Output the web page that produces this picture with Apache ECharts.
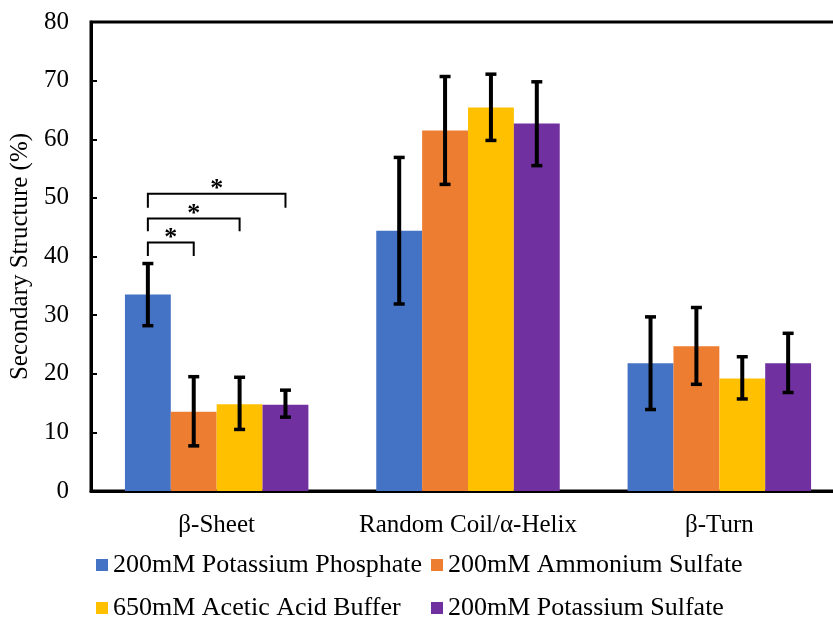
<!DOCTYPE html>
<html>
<head>
<meta charset="utf-8">
<script src="https://cdn.jsdelivr.net/npm/echarts@6/dist/echarts.min.js"></script>
<style>html,body{margin:0;padding:0;background:#fff}#c{width:833px;height:618px}</style>
</head>
<body>
<div id="c"></div>
<script>
const categories = ['β-Sheet', 'Random Coil/α-Helix', 'β-Turn'];
const seriesNames = ['200mM Potassium Phosphate', '200mM Ammonium Sulfate', '650mM Acetic Acid Buffer', '200mM Potassium Sulfate'];
const phosphate = [33.5, 44.4, 21.8];
const ammonium = [13.5, 61.5, 24.7];
const acetic = [14.8, 65.4, 19.2];
const potSulfate = [14.7, 62.7, 21.8];
const phosphateErr = [[28.2, 38.8], [31.9, 56.9], [13.9, 29.7]];
const ammoniumErr = [[7.7, 19.5], [52.3, 70.7], [18.2, 31.3]];
const aceticErr = [[10.5, 19.4], [59.8, 71.1], [15.7, 22.9]];
const potSulfateErr = [[12.6, 17.2], [55.5, 69.8], [16.8, 26.9]];
// significance brackets within β-Sheet: from series, to series, top level, leg bottom level
const bracketFrom = [0, 0, 0];
const bracketTo = [1, 2, 3];
const bracketTop = [42.4, 46.5, 50.7];
const bracketBottom = [40.1, 44.3, 48.3];
const yTicks = [0, 10, 20, 30, 40, 50, 60, 70, 80];

const colors = ['#4472C4', '#ED7D31', '#FFC000', '#7030A0'];
const FONT = "'Liberation Serif', 'Times New Roman', serif";
const GAP = 0.27;
const NS = 4;

const values = [phosphate, ammonium, acetic, potSulfate];
const errs = [phosphateErr, ammoniumErr, aceticErr, potSulfateErr];

function barCenter(api, cat, s) {
  const band = api.size([1, 0])[0];
  const bw = band * (1 - GAP) / NS;
  return api.coord([cat, 0])[0] - band * (1 - GAP) / 2 + bw * (s + 0.5);
}

const errData = [];
errs.forEach((arr, s) => arr.forEach((e, c) => errData.push([c, s, e[0], e[1]])));
const bracketData = bracketFrom.map((f, i) => [0, f, bracketTo[i], bracketTop[i], bracketBottom[i]]);

const chart = echarts.init(document.getElementById('c'), null, {renderer: 'canvas'});
const barSeries = seriesNames.map((n, i) => ({
  name: n,
  type: 'bar',
  data: values[i],
  itemStyle: {color: colors[i]},
  barGap: '0%',
  barCategoryGap: (GAP * 100) + '%',
  z: 2
}));

const legendPos = [[91, 547], [426, 547], [91, 590], [426, 590]];
const legends = seriesNames.map((n, i) => ({
  data: [n],
  orient: 'horizontal',
  left: legendPos[i][0], top: legendPos[i][1],
  itemWidth: 12, itemHeight: 12, itemGap: 5,
  icon: 'rect',
  textStyle: {color: '#000', fontSize: 26, fontFamily: FONT, lineHeight: 26}
}));

chart.setOption({
  animation: false,
  textStyle: {fontFamily: FONT},
  grid: {left: 91, top: 22, width: 754, height: 469, show: true, borderColor: '#000', borderWidth: 3, containLabel: false, outerBoundsMode: 'none'},
  xAxis: {
    type: 'category',
    data: categories,
    axisLine: {lineStyle: {color: '#000', width: 3}},
    axisTick: {show: false},
    axisLabel: {color: '#000', fontSize: 25, fontFamily: FONT, margin: 22, interval: 0}
  },
  yAxis: {
    type: 'value',
    min: yTicks[0],
    max: yTicks[yTicks.length - 1],
    interval: 10,
    name: 'Secondary Structure (%)',
    nameLocation: 'middle',
    nameGap: 58,
    nameTextStyle: {color: '#000', fontSize: 25, fontFamily: FONT},
    axisLine: {show: true, lineStyle: {color: '#000', width: 3}},
    axisTick: {show: true, inside: true, length: 6, lineStyle: {color: '#000', width: 2}},
    axisLabel: {color: '#000', fontSize: 25, fontFamily: FONT, margin: 22},
    splitLine: {show: false}
  },
  legend: legends,
  series: barSeries.concat([
    {
      type: 'custom',
      name: 'errors',
      data: errData,
      z: 5,
      silent: true,
      encode: {x: 0, y: 2},
      renderItem: function (params, api) {
        const cat = api.value(0), s = api.value(1);
        const x = barCenter(api, cat, s);
        const yl = api.coord([cat, api.value(2)])[1];
        const yh = api.coord([cat, api.value(3)])[1];
        const st = {stroke: '#000', lineWidth: 4};
        const cs = {stroke: '#000', lineWidth: 3.5};
        const hw = 5.5;
        return {type: 'group', children: [
          {type: 'line', shape: {x1: x, y1: yl, x2: x, y2: yh}, style: st},
          {type: 'line', shape: {x1: x - hw, y1: yh, x2: x + hw, y2: yh}, style: cs},
          {type: 'line', shape: {x1: x - hw, y1: yl, x2: x + hw, y2: yl}, style: cs}
        ]};
      }
    },
    {
      type: 'custom',
      name: 'brackets',
      data: bracketData,
      z: 5,
      silent: true,
      encode: {x: 0, y: 3},
      renderItem: function (params, api) {
        const cat = api.value(0);
        const x1 = barCenter(api, cat, api.value(1));
        const x2 = barCenter(api, cat, api.value(2));
        const yt = api.coord([cat, api.value(3)])[1];
        const yb = api.coord([cat, api.value(4)])[1];
        return {type: 'group', children: [
          {type: 'polyline', shape: {points: [[x1, yb], [x1, yt], [x2, yt], [x2, yb]]},
           style: {stroke: '#000', lineWidth: 2, fill: null}},
          {type: 'text', x: (x1 + x2) / 2, y: yt + 9,
           style: {text: '*', fontSize: 26, fontWeight: 'bold', fontFamily: FONT, fill: '#000', align: 'center', verticalAlign: 'bottom'}}
        ]};
      }
    }
  ])
});
</script>
</body>
</html>
